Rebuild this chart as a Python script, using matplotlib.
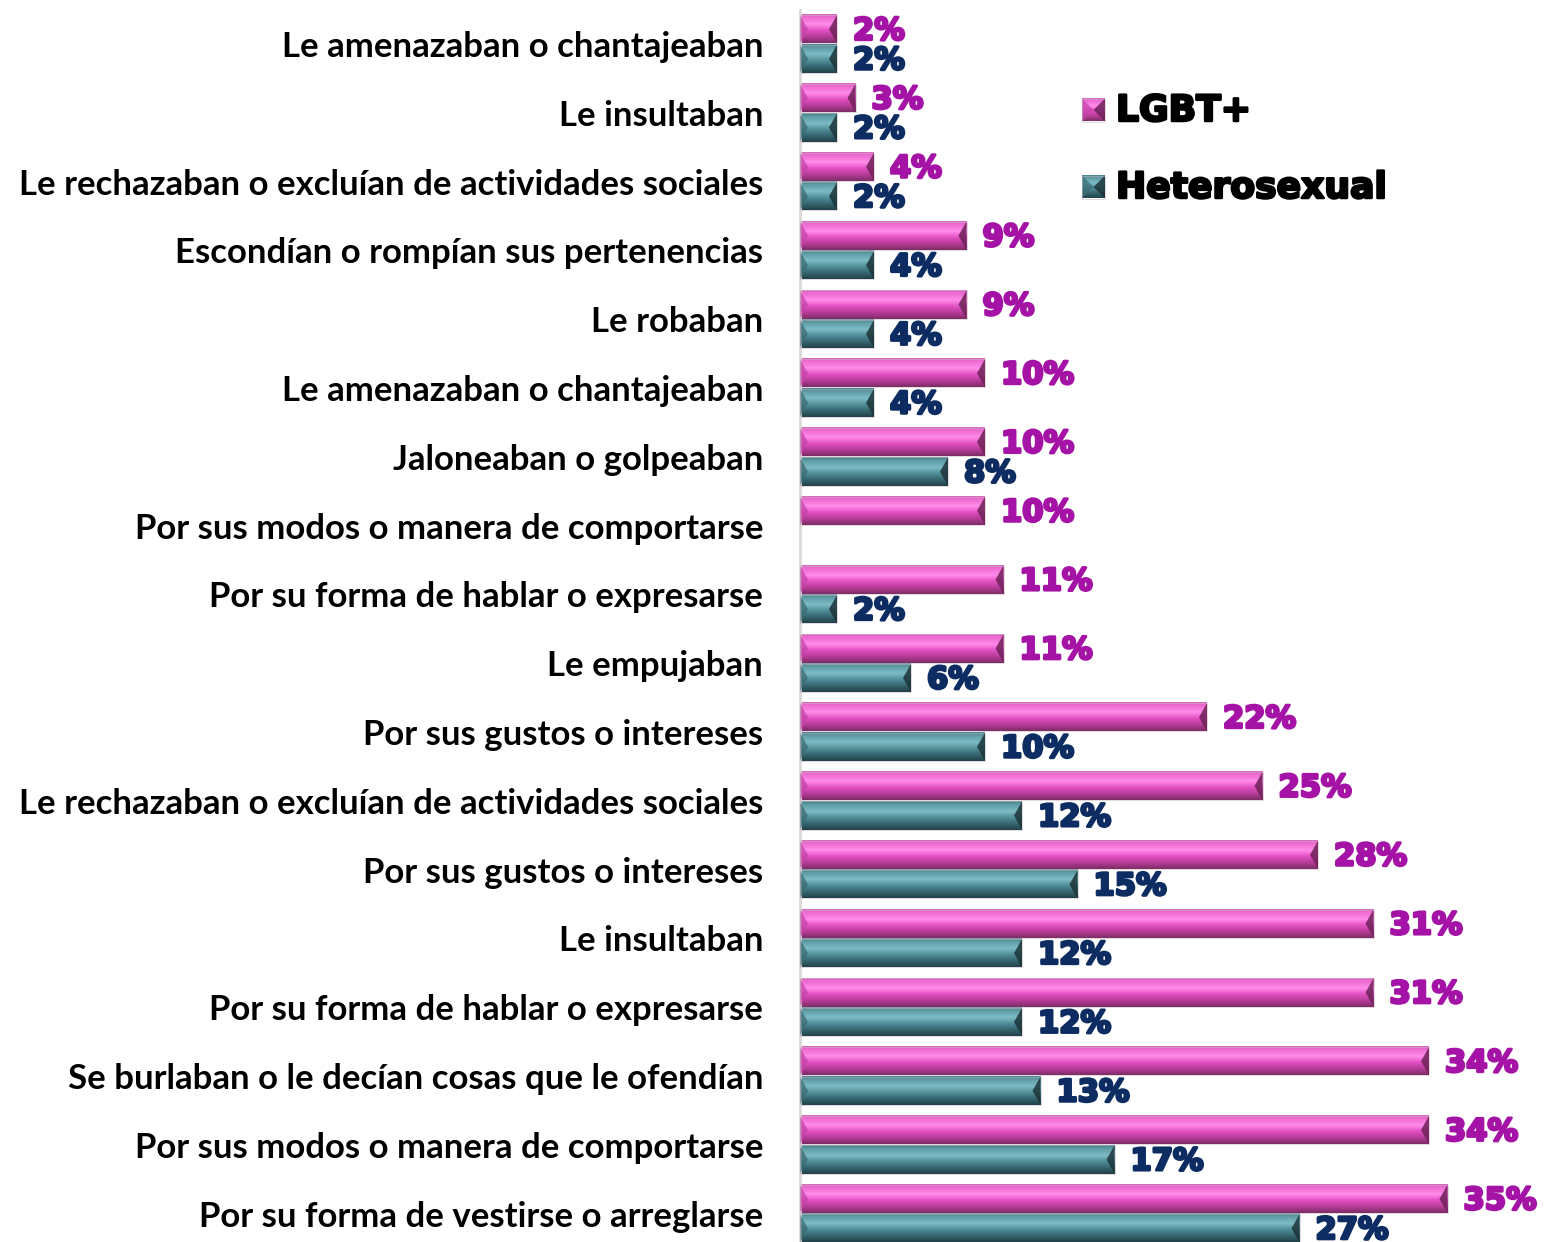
import numpy as np
import matplotlib
matplotlib.use("Agg")
import matplotlib.pyplot as plt
from matplotlib.patches import Polygon, Rectangle
from matplotlib.colors import to_rgba
import matplotlib.patheffects as pe

categories = [
    "Le amenazaban o chantajeaban",
    "Le insultaban",
    "Le rechazaban o excluían de actividades sociales",
    "Escondían o rompían sus pertenencias",
    "Le robaban",
    "Le amenazaban o chantajeaban",
    "Jaloneaban o golpeaban",
    "Por sus modos o manera de comportarse",
    "Por su forma de hablar o expresarse",
    "Le empujaban",
    "Por sus gustos o intereses",
    "Le rechazaban o excluían de actividades sociales",
    "Por sus gustos o intereses",
    "Le insultaban",
    "Por su forma de hablar o expresarse",
    "Se burlaban o le decían cosas que le ofendían",
    "Por sus modos o manera de comportarse",
    "Por su forma de vestirse o arreglarse",
]
lgbt = [2, 3, 4, 9, 9, 10, 10, 10, 11, 11, 22, 25, 28, 31, 31, 34, 34, 35]
hetero = [2, 2, 2, 4, 4, 4, 8, None, 2, 6, 10, 12, 15, 12, 12, 13, 17, 27]
series_names = ["LGBT+", "Heterosexual"]

W, H = 1547, 1242
fig = plt.figure(figsize=(W / 100, H / 100), dpi=100)
fig.patch.set_facecolor("white")

PX = 18.5  # pixels per percentage point
ax_left = 800 / W
ax_top_px = 9.6
ax_bot_px = 1248.0
ax = fig.add_axes([ax_left, 1 - ax_bot_px / H, 1 - ax_left, (ax_bot_px - ax_top_px) / H])
XMAX = (W - 800) / PX

pink_stops = [(0.0, "#D868C0"), (0.12, "#EE6CD2"), (0.35, "#FF8CEA"),
              (0.55, "#E452C4"), (0.8, "#B23A94"), (1.0, "#7C2E66")]
teal_stops = [(0.0, "#4A848E"), (0.12, "#5E9CA6"), (0.35, "#7DBCC6"),
              (0.6, "#4C8892"), (0.85, "#2E5A62"), (1.0, "#22424A")]
pink_caps = ("#C444A6", "#6E2258")
teal_caps = ("#3A6C74", "#1C3438")
pink_text = "#A412A6"
navy_text = "#0C2C62"


def gradient(stops, n=64):
    t = np.linspace(0, 1, n)
    pos = [s[0] for s in stops]
    cols = np.array([to_rgba(s[1]) for s in stops])
    out = np.zeros((n, 1, 4))
    for k in range(4):
        out[:, 0, k] = np.interp(t, pos, cols[:, k])
    return out


pink_grad = gradient(pink_stops)
teal_grad = gradient(teal_stops)

bh = 0.41
off = 0.215
bx = 8 / PX


def draw_bar(a, x0, v, yc, h, grad, caps, bevel, edge="#C8B4C0"):
    top, bot = yc - h / 2, yc + h / 2
    a.imshow(grad, extent=(x0, x0 + v, bot, top), aspect="auto",
             interpolation="bilinear", origin="upper", zorder=2)
    bxx = min(bevel, v / 2)
    a.add_patch(Polygon([(x0, top), (x0, bot), (x0 + bxx, yc)], closed=True,
                        facecolor=caps[0], alpha=0.75, edgecolor="none", zorder=3))
    a.add_patch(Polygon([(x0 + v, top), (x0 + v, bot), (x0 + v - bxx, yc)], closed=True,
                        facecolor=caps[1], alpha=0.85, edgecolor="none", zorder=3))
    a.add_patch(Rectangle((x0, top), v, h, facecolor="none", edgecolor=edge,
                          linewidth=0.6, alpha=0.6, zorder=4))


val_font = dict(family="DejaVu Sans", fontweight="bold", fontsize=22)

for i, (cat, a_, b_) in enumerate(zip(categories, lgbt, hetero)):
    yp = i - off
    draw_bar(ax, 0, a_, yp, bh, pink_grad, pink_caps, bx)
    t = ax.text(a_ + 16 / PX, yp + 0.03, f"{a_}%", color=pink_text, va="center",
                ha="left", **val_font, zorder=5)
    t.set_path_effects([pe.withStroke(linewidth=2.0, foreground=pink_text)])
    if b_ is not None:
        yh = i + off
        draw_bar(ax, 0, b_, yh, bh, teal_grad, teal_caps, bx)
        t = ax.text(b_ + 16 / PX, yh + 0.03, f"{b_}%", color=navy_text, va="center",
                    ha="left", **val_font, zorder=5)
        t.set_path_effects([pe.withStroke(linewidth=2.0, foreground=navy_text)])

ax.set_xlim(0, XMAX)
ax.set_ylim(len(categories) - 0.5, -0.5)
ax.set_aspect("auto")
ax.set_yticks(range(len(categories)))
ax.set_yticklabels(categories, fontfamily="Lato", fontweight="bold", fontsize=25)
ax.tick_params(axis="y", length=0, pad=26.5)
ax.set_xticks([])
for s in ["top", "right", "bottom"]:
    ax.spines[s].set_visible(False)
ax.spines["left"].set_color("#D9D9D9")
ax.spines["left"].set_linewidth(2)
ax.set_facecolor("none")

# legend
lax = fig.add_axes([0, 0, 1, 1])
lax.set_xlim(0, W)
lax.set_ylim(H, 0)
lax.axis("off")
leg_items = [(series_names[0], pink_grad, pink_caps, 110),
             (series_names[1], teal_grad, teal_caps, 187)]
for name, grad, caps, yc in leg_items:
    draw_bar(lax, 1082, 23, yc, 23, grad, caps, 11.5)
    lt = lax.text(1116, yc + 1, name, fontfamily="DejaVu Sans", fontweight="bold",
                  fontsize=26, va="center", ha="left", color="black")
    lt.set_path_effects([pe.withStroke(linewidth=1.8, foreground="black")])

fig.savefig("out.png", dpi=100, facecolor="white")
